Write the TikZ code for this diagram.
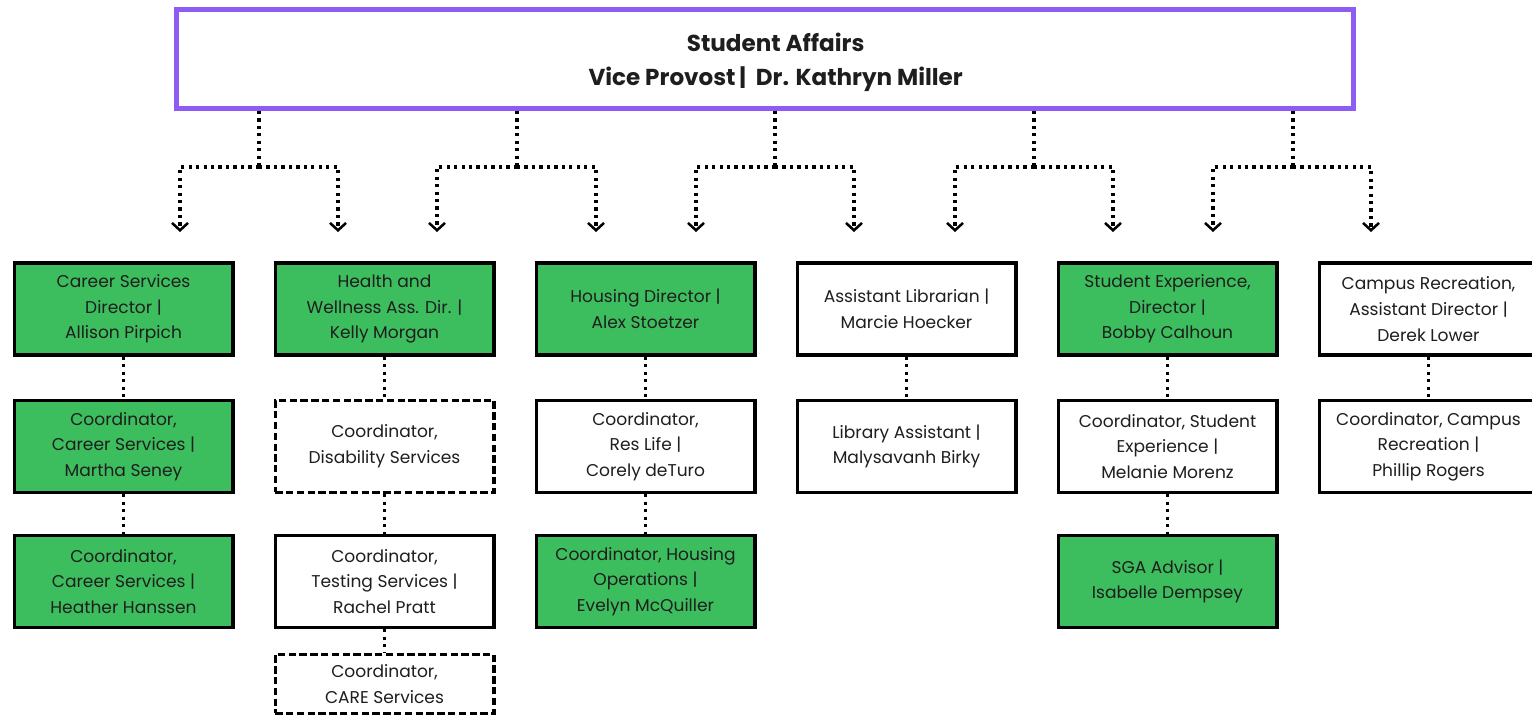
\documentclass[tikz,border=0pt]{standalone}
\usepackage{fontspec}
\setmainfont{Poppins}
\usetikzlibrary{arrows.meta}

\definecolor{unitgreen}{RGB}{61,190,94}
\definecolor{headpurple}{RGB}{140,92,245}
\definecolor{ink}{RGB}{30,30,30}

\tikzset{
  unit/.style={draw=black, line width=2.5pt, minimum width=164pt, minimum height=69pt,
    align=center, text=ink, inner sep=2pt, font=\fontsize{12.8}{19.2}\selectfont},
  greenunit/.style={unit, fill=unitgreen},
  plainunit/.style={unit, fill=white},
  openunit/.style={unit, fill=white, dash pattern=on 5.5pt off 2.6pt},
  link/.style={line width=2.8pt, dash pattern=on 2.4pt off 3.2pt},
  tip/.style={-{Straight Barb[length=5.5pt, width=12pt, line width=1.9pt]}}
}

\begin{document}
\begin{tikzpicture}[x=0.75pt, y=-0.75pt]
  \useasboundingbox (0,0) rectangle (1532,716);

  \node (head) [draw=headpurple, line width=3.8pt, fill=white, minimum width=883pt,
    minimum height=74pt, align=center, text=ink, font=\bfseries\fontsize{17.3}{25.5}\selectfont]
    at (765,59) {\rule{0pt}{19pt}\hspace*{16pt}Student Affairs\\\hspace*{16pt}Vice Provost\,|\ \ Dr. Kathryn Miller};

  % forks under the head box
  \foreach \jx/\lx/\rx [count=\i] in {259/180/338, 517/437/596, 775/696/854,
                                      1034/955/1113, 1293/1213/1371} {
    \coordinate (fork\i)  at (\jx,167);
    \coordinate (left\i)  at (\lx,232);
    \coordinate (right\i) at (\rx,232);
    \draw [link] (head.south -| fork\i) -- (fork\i);
    \draw [link, tip] (fork\i) -| (left\i);
    \draw [link, tip] (fork\i) -| (right\i);
  }

  % career services
  \node (career)  [greenunit] at (123.5,309)   {Career Services\\Director |\\Allison Pirpich};
  \node (careerA) [greenunit] at (123.5,446.5) {Coordinator,\\Career Services |\\Martha Seney};
  \node (careerB) [greenunit] at (123.5,581.5) {Coordinator,\\Career Services |\\Heather Hanssen};

  % health and wellness
  \node (health)     [greenunit] at (384.5,309)   {Health and\\Wellness Ass. Dir. |\\Kelly Morgan};
  \node (disability) [openunit]  at (384.5,446.5) {Coordinator,\\Disability Services};
  \node (testing)    [plainunit] at (384.5,581.5) {Coordinator,\\Testing Services |\\Rachel Pratt};
  \node (care)       [openunit, minimum height=44pt] at (384.5,684) {Coordinator,\\CARE Services};

  % housing
  \node (housing)    [greenunit] at (645.5,309)   {Housing Director |\\Alex Stoetzer};
  \node (reslife)    [plainunit] at (645.5,446.5) {Coordinator,\\Res Life |\\Corely deTuro};
  \node (housingops) [greenunit] at (645.5,581.5) {Coordinator, Housing\\Operations |\\Evelyn McQuiller};

  % library
  \node (library)   [plainunit] at (906.5,309)   {Assistant Librarian |\\Marcie Hoecker};
  \node (libassist) [plainunit] at (906.5,446.5) {Library Assistant |\\Malysavanh Birky};

  % student experience
  \node (experience) [greenunit] at (1167.5,309)   {Student Experience,\\Director |\\Bobby Calhoun};
  \node (expcoord)   [plainunit] at (1167.5,446.5) {Coordinator, Student\\Experience |\\Melanie Morenz};
  \node (sga)        [greenunit] at (1167.5,581.5) {SGA Advisor |\\Isabelle Dempsey};

  % campus recreation
  \node (recreation) [plainunit] at (1428.5,309)   {Campus Recreation,\\Assistant Director |\\Derek Lower};
  \node (reccoord)   [plainunit] at (1428.5,446.5) {Coordinator, Campus\\Recreation |\\Phillip Rogers};

  \draw [link] (career) -- (careerA);
  \draw [link] (careerA) -- (careerB);
  \draw [link] (health) -- (disability);
  \draw [link] (disability) -- (testing);
  \draw [link] (testing) -- (care);
  \draw [link] (housing) -- (reslife);
  \draw [link] (reslife) -- (housingops);
  \draw [link] (library) -- (libassist);
  \draw [link] (experience) -- (expcoord);
  \draw [link] (expcoord) -- (sga);
  \draw [link] (recreation) -- (reccoord);
\end{tikzpicture}
\end{document}
